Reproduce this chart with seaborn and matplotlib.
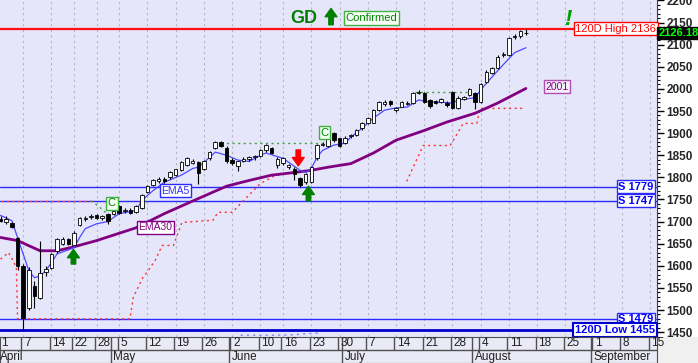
import matplotlib
matplotlib.use('Agg')
import matplotlib.pyplot as plt
from matplotlib.patches import FancyArrowPatch, Rectangle
from matplotlib.ticker import MultipleLocator
import seaborn as sns

# daily candles, one per trading day starting April 1 (index = trading day)
opens = [1705, 1700, 1696, 1663, 1600, 1505, 1555, 1527, 1585, 1595,
         1634, 1650, 1660, 1648, 1693, 1706, 1710, 1715, 1707, 1716,
         1718, 1736, 1723, 1727, 1722, 1730, 1766, 1782, 1791, 1797,
         1800, 1805, 1816, 1827, 1833, 1834, 1820, 1843, 1866, 1880,
         1866, 1840, 1825, 1838, 1841, 1845, 1848, 1861, 1866, 1828,
         1832, 1824, 1820, 1798, 1789, 1789, 1843, 1873, 1870, 1900,
         1888, 1877, 1893, 1895, 1911, 1922, 1924, 1952, 1965, 1972,
         1953, 1960, 1966, 1968, 1990, 1990, 1975, 1972, 1970, 1968,
         1993, 1957, 1978, 1986, 1990, 1970, 2016, 2036, 2048, 2076,
         2077, 2117, 2120, 2126]
highs = [1712, 1712, 1700, 1666, 1605, 1598, 1566, 1657, 1600, 1630,
         1663, 1665, 1662, 1678, 1710, 1712, 1716, 1718, 1714, 1719,
         1730, 1738, 1730, 1730, 1738, 1762, 1783, 1796, 1800, 1800,
         1814, 1820, 1836, 1846, 1842, 1838, 1839, 1860, 1882, 1883,
         1870, 1844, 1838, 1845, 1848, 1850, 1864, 1876, 1869, 1845,
         1846, 1830, 1823, 1801, 1810, 1826, 1876, 1880, 1891, 1903,
         1890, 1893, 1898, 1910, 1925, 1937, 1955, 1972, 1975, 1975,
         1960, 1972, 1973, 1992, 1997, 1993, 1978, 1976, 1980, 1972,
         1996, 1983, 1985, 2003, 1993, 2014, 2042, 2050, 2076, 2084,
         2117, 2124, 2133, 2136]
lows = [1698, 1695, 1685, 1590, 1455, 1500, 1505, 1525, 1578, 1592,
        1630, 1648, 1646, 1646, 1690, 1702, 1706, 1705, 1703, 1695,
        1715, 1716, 1719, 1716, 1720, 1728, 1764, 1780, 1788, 1788,
        1797, 1803, 1814, 1825, 1830, 1784, 1817, 1840, 1864, 1868,
        1832, 1828, 1815, 1834, 1838, 1840, 1845, 1858, 1852, 1822,
        1828, 1820, 1793, 1779, 1786, 1787, 1840, 1870, 1868, 1880,
        1868, 1875, 1890, 1893, 1908, 1920, 1922, 1950, 1962, 1962,
        1948, 1958, 1964, 1966, 1988, 1968, 1957, 1966, 1968, 1960,
        1955, 1955, 1976, 1984, 1955, 1968, 2014, 2034, 2046, 2072,
        2075, 2112, 2116, 2122]
closes = [1702, 1706, 1688, 1600, 1482, 1590, 1532, 1584, 1593, 1627,
          1661, 1660, 1649, 1675, 1708, 1708, 1713, 1708, 1712, 1702,
          1725, 1720, 1727, 1720, 1736, 1759, 1780, 1793, 1797, 1791,
          1811, 1818, 1834, 1843, 1838, 1809, 1836, 1857, 1880, 1870,
          1836, 1832, 1836, 1842, 1845, 1848, 1861, 1873, 1855, 1841,
          1843, 1827, 1807, 1782, 1807, 1823, 1873, 1876, 1888, 1884,
          1872, 1890, 1896, 1907, 1922, 1934, 1952, 1970, 1970, 1965,
          1957, 1970, 1969, 1990, 1993, 1970, 1962, 1968, 1977, 1964,
          1957, 1980, 1982, 2000, 1970, 2011, 2039, 2048, 2073, 2080,
          2114, 2120, 2130, 2126.18]

# moving averages
ema5_idx = [0, 2, 3, 4, 5, 6, 7, 8, 9, 10, 12, 13, 14, 15, 17, 19, 21, 24, 25, 27,
            29, 32, 34, 35, 37, 38, 40, 42, 44, 46, 47, 50, 51, 53, 54, 55, 56, 57,
            59, 61, 62, 64, 66, 68, 70, 72, 74, 76, 78, 80, 81, 84, 85, 87, 89, 91, 93]
ema5_val = [1714, 1702, 1664, 1627, 1589, 1573, 1577, 1589, 1607, 1627, 1636, 1641,
            1664, 1684, 1695, 1700, 1718, 1725, 1748, 1770, 1789, 1805, 1820, 1823,
            1845, 1857, 1850, 1839, 1836, 1850, 1855, 1843, 1834, 1816, 1811, 1820,
            1845, 1861, 1873, 1877, 1891, 1911, 1934, 1952, 1957, 1959, 1975, 1970,
            1970, 1968, 1975, 1980, 1998, 2027, 2055, 2082, 2093]
ema30_idx = [0, 3, 7, 10, 13, 17, 24, 29, 35, 40, 44, 48, 52, 55, 58, 62, 66, 70,
             75, 79, 84, 88, 93]
ema30_val = [1664, 1657, 1634, 1634, 1643, 1657, 1686, 1718, 1752, 1780, 1793, 1805,
             1811, 1816, 1823, 1831, 1855, 1884, 1906, 1925, 1945, 1968, 2001]

# trailing stop (red dotted)
stop1_idx = [0, 1.4, 2.2, 2.8, 3, 22.9, 23.5, 25.2, 25.9, 27.4, 28.6, 30.6, 32.1,
             37.6, 38.5, 41, 43.6, 46, 48.6, 52.5]
stop1_val = [1615, 1630, 1612, 1596, 1480, 1480, 1529, 1574, 1585, 1613, 1646, 1646,
             1698, 1703, 1721, 1721, 1755, 1786, 1804, 1813]
stop2_idx = [71.9, 74.8, 79.6, 81.9, 84.3, 84.9, 92.9]
stop2_val = [1791, 1872, 1872, 1922, 1922, 1956, 1956]
low_dots_idx = [42.5, 48, 52, 53.5, 55, 56.5]
low_dots_val = [1443, 1443, 1444, 1446, 1447, 1448]

week_ticks = [0, 4, 9, 13, 17, 21, 26, 31, 36, 41, 46, 50, 55, 60, 65, 70, 75, 80,
              85, 90, 95, 100, 105, 110, 115]
week_labels = ['1', '7', '14', '22', '28', '5', '12', '19', '26', '2', '10', '16', '23',
               '30', '7', '14', '21', '28', '4', '11', '18', '25', '1', '8', '15']
month_bounds = [-0.5, 19.5, 40.5, 60.5, 83.5, 104.5]
month_names = ['April', 'May', 'June', 'July', 'August', 'September']

high_120 = 2136
low_120 = 1455
supports = [1779, 1747, 1479]
last_price = 2126.18
ema30_last = 2001

BG = '#e6e6fa'
GREEN = '#008000'
BLUE = '#2b2bff'
PURPLE = '#800080'

sns.set_style('white', {'axes.facecolor': BG})
plt.rcParams['font.family'] = ['Liberation Sans', 'DejaVu Sans']

fig = plt.figure(figsize=(6.98, 3.63), dpi=100)
ax = fig.add_axes([0, 26 / 363, 657 / 698, 337 / 363])
ax.set_facecolor(BG)
XMAX = 116.2
ax.set_xlim(-0.1, XMAX)
ax.set_ylim(1439, 2201)

for t in week_ticks[1:]:
    ax.axvline(t, color='#b4b4c4', lw=0.8, ls=(0, (2, 3)), zorder=0)

# horizontal levels
ax.axhline(high_120, color='#ff1010', lw=1.6, zorder=1)
for s in supports:
    ax.axhline(s, color=BLUE, lw=1.0, zorder=1)
ax.axhline(low_120, color='#0000d0', lw=2.0, zorder=1)

# dotted helper lines
ax.plot([0, 16], [1747, 1747], color='#ff4040', ls=(0, (1.5, 2.5)), lw=1, zorder=2)
ax.plot([16, 17.5, 19], [1747, 1733, 1716], color='#40a040', ls=(0, (1.5, 2.5)), lw=1, zorder=2)
ax.plot([39, 57], [1878, 1878], color='#40a040', ls=(0, (1.5, 2.5)), lw=1, zorder=2)
ax.plot([73.4, 83], [1993, 1993], color='#40a040', ls=(0, (1.5, 2.5)), lw=1, zorder=2)

sns.lineplot(x=stop1_idx, y=stop1_val, ax=ax, color='#ff3030', lw=1,
             linestyle=(0, (1.5, 2.5)), sort=False, estimator=None, zorder=2)
sns.lineplot(x=stop2_idx, y=stop2_val, ax=ax, color='#ff3030', lw=1,
             linestyle=(0, (1.5, 2.5)), sort=False, estimator=None, zorder=2)
sns.lineplot(x=low_dots_idx, y=low_dots_val, ax=ax, color='#8080ff', lw=1,
             linestyle=(0, (1.5, 3)), sort=False, estimator=None, zorder=2)

sns.lineplot(x=ema30_idx, y=ema30_val, ax=ax, color=PURPLE, lw=2, sort=False,
             estimator=None, zorder=3)
sns.lineplot(x=ema5_idx, y=ema5_val, ax=ax, color='#4a4aff', lw=0.9, sort=False,
             estimator=None, zorder=3)

# candles
idx = list(range(len(closes)))
ax.vlines(idx, lows, highs, color='black', lw=0.8, zorder=4)
bottoms = [min(o, c) for o, c in zip(opens, closes)]
heights = [max(abs(c - o), 1.2) for o, c in zip(opens, closes)]
faces = ['white' if c >= o else 'black' for o, c in zip(opens, closes)]
ax.bar(idx, heights, bottom=bottoms, width=0.62, color=faces, edgecolor='black',
       linewidth=0.6, zorder=5)

# right axis
ax.yaxis.tick_right()
ax.set_yticks(range(1450, 2201, 50))
ax.yaxis.set_minor_locator(MultipleLocator(10))
ax.tick_params(axis='y', which='major', length=5, width=1, labelsize=8.5, pad=2,
               color='black', right=True)
ax.tick_params(axis='y', which='minor', length=2.5, width=0.8, color='black', right=True)
for lbl in ax.get_yticklabels():
    lbl.set_fontweight('bold')
ax.set_xticks([])
ax.set_xlabel('')
ax.set_ylabel('')
for side in ['left', 'top', 'bottom']:
    ax.spines[side].set_visible(False)
ax.spines['right'].set_color('#404040')

ytr = ax.get_yaxis_transform()
box = lambda ec, fc='white', lw=1, pad=0.15: dict(boxstyle='square,pad=%s' % pad, fc=fc, ec=ec, lw=lw)
ax.text(0.999, high_120, '120D High 2136', transform=ytr, ha='right', va='center',
        color='#ff0000', fontsize=8, bbox=box('#ff0000'), zorder=8)
ax.text(1.002, last_price, '2126.18', transform=ytr, ha='left', va='center',
        color='#00ff00', fontsize=8, fontweight='bold', bbox=box('black', 'black', pad=0.08),
        zorder=9, clip_on=False)
for s in supports:
    ax.text(0.995, s, 'S %d' % s, transform=ytr, ha='right', va='center', color='#0000ff',
            fontsize=8, fontweight='bold', bbox=box(BLUE), zorder=8)
ax.text(0.997, low_120, '120D Low 1455', transform=ytr, ha='right', va='center',
        color='#0000ff', fontsize=8, fontweight='bold', bbox=box('#0000d0', lw=1.5), zorder=8)

ax.text(31, 1770, 'EMA5', ha='center', va='center', color='#3030ff', fontsize=7.5,
        bbox=box(BLUE), zorder=8)
ax.text(27.4, 1687, 'EMA30', ha='center', va='center', color=PURPLE, fontsize=7.5,
        bbox=box(PURPLE), zorder=8)
ax.text(98.5, 2005, str(ema30_last), ha='center', va='center', color=PURPLE, fontsize=7.5,
        bbox=box('#b050b0', '#f4f0fa'), zorder=8)
ax.text(19.7, 1741, 'C', ha='center', va='center', color=GREEN, fontsize=8,
        bbox=box('#40b040', '#f0fff0'), zorder=8)
ax.text(57.3, 1901, 'C', ha='center', va='center', color=GREEN, fontsize=8,
        bbox=box('#40b040', '#f0fff0'), zorder=8)
ax.text(53.7, 2160, 'GD', ha='center', va='center', color=GREEN, fontsize=13,
        fontweight='bold', zorder=8)
ax.text(65.6, 2160, 'Confirmed', ha='center', va='center', color=GREEN, fontsize=8,
        bbox=box('#40b040', '#f8fff8'), zorder=8)
ax.text(100.5, 2157, '!', ha='center', va='center', color='#00a000', fontsize=16,
        fontweight='bold', style='italic', zorder=8)

def arrow(x, y0, y1, color):
    ax.add_patch(FancyArrowPatch((x, y0), (x, y1), color=color, zorder=9,
                                 arrowstyle='simple,head_length=0.6,head_width=0.85,tail_width=0.32',
                                 mutation_scale=10, shrinkA=0, shrinkB=0))

arrow(58.5, 2145, 2182, GREEN)
arrow(52.7, 1862, 1826, '#ff0000')
arrow(54.5, 1747, 1780, GREEN)
arrow(12.9, 1604, 1637, GREEN)

# date rows
axd = fig.add_axes([0, 0, 657 / 698, 26 / 363])
axd.set_facecolor('#eaeaf6')
axd.set_xlim(-0.1, XMAX)
axd.set_ylim(0, 2)
axd.set_xticks([])
axd.set_yticks([])
for sp in axd.spines.values():
    sp.set_color('#505050')
axd.axhline(1, color='#505050', lw=1)
for t, lab in zip(week_ticks, week_labels):
    if t > 0:
        axd.vlines(t - 0.3, 1, 2, color='#505050', lw=1)
    axd.text(t + 0.15, 1.5, lab, ha='left', va='center', fontsize=8.5, color='#202020')
for b, name in zip(month_bounds, month_names):
    if b > 0:
        axd.vlines(b, 0, 2, color='#505050', lw=1)
    axd.text(b + 0.45, 0.48, name, ha='left', va='center', fontsize=8.5, color='#202020')

fig.add_artist(Rectangle((657 / 698, 0), 41 / 698, 26 / 363, transform=fig.transFigure,
                         color='#f0f0f0', zorder=0))

fig.savefig('out.png', dpi=100)
